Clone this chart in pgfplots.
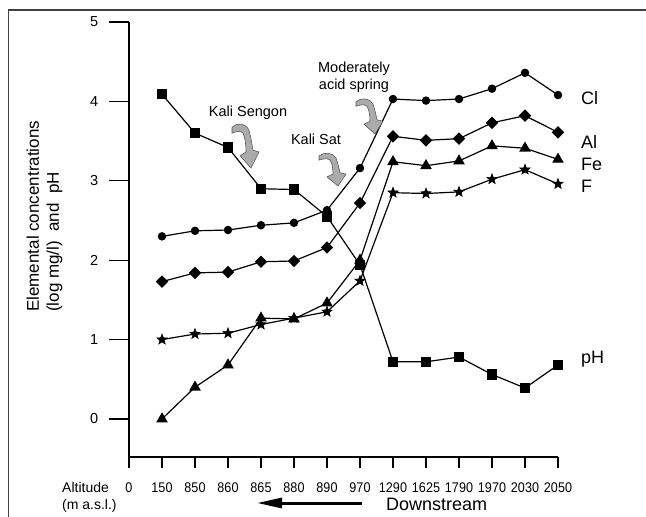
\documentclass[border=0pt]{standalone}
\usepackage{pgfplots}
\pgfplotsset{compat=1.18}
\usepackage{fontspec}
\setmainfont{Liberation Sans}
\newfontfamily\narrowfont[FakeStretch=0.9]{Liberation Sans}
\usetikzlibrary{arrows.meta}

\newcommand{\tickfont}{\fontsize{14bp}{16bp}\selectfont}
\newcommand{\xtickfont}{\narrowfont\fontsize{14bp}{16bp}\selectfont}
\newcommand{\ytickfont}{\fontsize{14.5bp}{16bp}\selectfont}

\pgfdeclareplotmark{fstar}{%
 \pgfpathmoveto{\pgfpointpolar{90}{\pgfplotmarksize}}%
 \pgfpathlineto{\pgfpointpolar{126}{0.42\pgfplotmarksize}}%
 \pgfpathlineto{\pgfpointpolar{162}{\pgfplotmarksize}}%
 \pgfpathlineto{\pgfpointpolar{198}{0.42\pgfplotmarksize}}%
 \pgfpathlineto{\pgfpointpolar{234}{\pgfplotmarksize}}%
 \pgfpathlineto{\pgfpointpolar{270}{0.42\pgfplotmarksize}}%
 \pgfpathlineto{\pgfpointpolar{306}{\pgfplotmarksize}}%
 \pgfpathlineto{\pgfpointpolar{342}{0.42\pgfplotmarksize}}%
 \pgfpathlineto{\pgfpointpolar{18}{\pgfplotmarksize}}%
 \pgfpathlineto{\pgfpointpolar{54}{0.42\pgfplotmarksize}}%
 \pgfpathclose
 \pgfusepathqfillstroke}

\newcommand{\grayarrow}[2]{%
 \begin{scope}[shift={#1}, yscale=#2]
 \filldraw[fill=black!33, draw=black!65, line width=0.6bp]
  (-19bp,43bp) .. controls (-14bp,49bp) and (-5bp,48bp) .. (-2bp,40bp)
  .. controls (0bp,32bp) and (1bp,25bp) .. (2bp,19bp)
  -- (8bp,17bp) -- (0bp,0bp) -- (-11bp,13bp) -- (-5bp,17bp)
  .. controls (-5bp,25bp) and (-6bp,33bp) .. (-8bp,37bp)
  .. controls (-10bp,40bp) and (-15bp,39bp) .. (-19bp,37bp) -- cycle;
 \end{scope}}

\begin{document}
\begin{tikzpicture}
\useasboundingbox (0,0) rectangle (646bp,-517bp);
\draw[black!75, line width=1.5bp] (8.5bp,-520bp) -- (8.5bp,-10bp) -- (650bp,-10bp);
\begin{axis}[
  at={(129bp,-457bp)}, anchor=south west,
  scale only axis, width=429bp, height=435bp,
  xmin=0, xmax=13, ymin=-0.479, ymax=5,
  axis lines=left, axis line style={-, line width=1.3bp},
  tick align=outside,
  xtick={0,...,13},
  xticklabels={0,150,850,860,865,880,890,970,1290,1625,1790,1970,2030,2050},
  ytick={0,...,5},
  tick style={line width=1.3bp, black},
  xtick style={/pgfplots/major tick length=11bp},
  ytick style={/pgfplots/major tick length=20bp},
  xticklabel style={font=\xtickfont, anchor=base, yshift=-31bp},
  yticklabel style={font=\ytickfont, anchor=east, xshift=-23bp},
  /pgf/number format/assume math mode=true,
  clip=false,
  every axis plot/.append style={black, line width=1.2bp, mark options={solid, fill=black}},
]
% Cl
\addplot[mark=*, mark size=3.6bp] coordinates {
 (1,2.30) (2,2.37) (3,2.38) (4,2.44) (5,2.47) (6,2.63) (7,3.16)
 (8,4.03) (9,4.01) (10,4.03) (11,4.16) (12,4.36) (13,4.08)};
% Al
\addplot[mark=square*, mark size=3.8bp, mark options={rotate=45}] coordinates {
 (1,1.73) (2,1.84) (3,1.85) (4,1.98) (5,1.99) (6,2.16) (7,2.72)
 (8,3.56) (9,3.51) (10,3.53) (11,3.73) (12,3.82) (13,3.61)};
% Fe
\addplot[mark=triangle*, mark size=5.5bp] coordinates {
 (1,0.00) (2,0.40) (3,0.68) (4,1.27) (5,1.26) (6,1.46) (7,2.00)
 (8,3.24) (9,3.19) (10,3.25) (11,3.44) (12,3.41) (13,3.27)};
% F
\addplot[mark=fstar, mark size=5.5bp, mark options={line width=0.5bp}] coordinates {
 (1,1.00) (2,1.07) (3,1.08) (4,1.19) (5,1.27) (6,1.35) (7,1.74)
 (8,2.85) (9,2.84) (10,2.86) (11,3.02) (12,3.14) (13,2.96)};
% pH
\addplot[mark=square*, mark size=4.6bp] coordinates {
 (1,4.09) (2,3.60) (3,3.42) (4,2.90) (5,2.89) (6,2.55) (7,1.94)
 (8,0.72) (9,0.72) (10,0.78) (11,0.56) (12,0.39) (13,0.68)};
\end{axis}

% y label
\node[rotate=90, anchor=west, align=left, inner sep=0pt,
  font=\fontsize{17bp}{20bp}\selectfont] at (44.5bp,-312bp)
  {Elemental concentrations\\(log mg/l)\ \ and\ \ pH};

% axis text
\node[anchor=base west, inner sep=0pt, font=\tickfont] at (62bp,-492bp) {Altitude};
\node[anchor=base west, inner sep=0pt, font=\tickfont] at (62bp,-509bp) {(m a.s.l.)};
\draw[line width=3bp, -{Triangle[length=25bp,width=10bp]}] (362bp,-503bp) -- (257bp,-503bp);
\node[anchor=base west, inner sep=0pt, font=\fontsize{18bp}{20bp}\selectfont] at (386bp,-510bp) {Downstream};

% series labels
\begin{scope}[every node/.style={anchor=base west, inner sep=0pt, font=\fontsize{18bp}{20bp}\selectfont}]
\node at (581bp,-104bp) {Cl};
\node at (581bp,-148bp) {Al};
\node at (581bp,-170bp) {Fe};
\node at (581bp,-192bp) {F};
\node at (581bp,-363bp) {pH};
\end{scope}

% annotations
\begin{scope}[every node/.style={anchor=base, inner sep=0pt, font=\fontsize{14.5bp}{17bp}\selectfont}]
\node at (248bp,-116bp) {Kali Sengon};
\node at (316bp,-144bp) {Kali Sat};
\node at (354bp,-72bp) {Moderately};
\node at (354bp,-89bp) {acid spring};
\end{scope}

\grayarrow{(251bp,-168bp)}{0.94}
\grayarrow{(338bp,-186bp)}{0.7}
\grayarrow{(375bp,-134bp)}{0.75}
\end{tikzpicture}
\end{document}
